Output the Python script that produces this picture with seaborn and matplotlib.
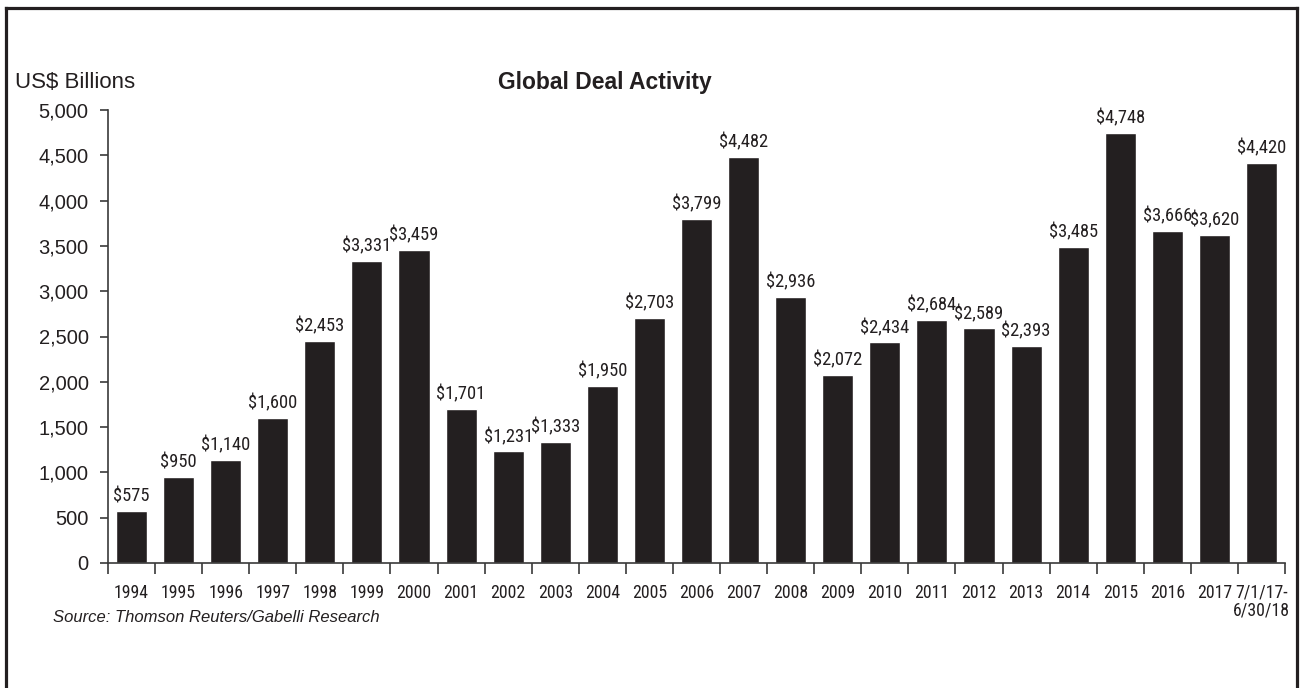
import numpy as np
import pandas as pd
import matplotlib
matplotlib.use("Agg")
import matplotlib.pyplot as plt
from matplotlib import font_manager
from matplotlib.font_manager import FontProperties
from matplotlib.lines import Line2D
import seaborn as sns

categories = ["1994", "1995", "1996", "1997", "1998", "1999", "2000", "2001", "2002",
              "2003", "2004", "2005", "2006", "2007", "2008", "2009", "2010", "2011",
              "2012", "2013", "2014", "2015", "2016", "2017", "7/1/17-\n6/30/18"]
values = [575, 950, 1140, 1600, 2453, 3331, 3459, 1701, 1231, 1333, 1950, 2703, 3799,
          4482, 2936, 2072, 2434, 2684, 2589, 2393, 3485, 4748, 3666, 3620, 4420]
y_ticks = [0, 500, 1000, 1500, 2000, 2500, 3000, 3500, 4000, 4500, 5000]

title = "Global Deal Activity"
unit_label = "US$ Billions"
source = "Source: Thomson Reuters/Gabelli Research"

sns.set_theme(style="ticks")
plt.rcParams['font.family'] = ['Liberation Sans', 'DejaVu Sans']

# look for a condensed / narrow sans face for the small labels
def find_condensed():
    cands = []
    for f in font_manager.fontManager.ttflist:
        name = f.name.lower()
        path = f.fname.lower()
        stretch = str(f.stretch).lower()
        is_cond = ('narrow' in name or 'condensed' in name or 'narrow' in path
                   or 'condensed' in path or 'condensed' in stretch)
        if not is_cond or 'semi' in path:
            continue
        if any(k in path for k in ('bold', 'italic', 'oblique', 'light', 'thin', 'black', 'medium')):
            continue
        rank = 9
        if 'liberation' in path:
            rank = 0
        elif 'roboto' in path:
            rank = 1
        elif 'opensans' in path or 'open sans' in name:
            rank = 2
        elif 'noto' in path:
            rank = 3
        elif 'dejavu' in path:
            rank = 4
        cands.append((rank, f.fname))
    cands.sort()
    return cands[0][1] if cands else None

cond_path = find_condensed()
if cond_path:
    tick_fp = FontProperties(fname=cond_path, size=12.8)
    bar_fp = FontProperties(fname=cond_path, size=13.3)
else:
    tick_fp = FontProperties(family='Liberation Sans', size=11)
    bar_fp = FontProperties(family='Liberation Sans', size=11)

BAR = '#231f20'
AXC = '#3a3a3a'

fig = plt.figure(figsize=(13.03, 6.88), dpi=100)
W, H = 1303, 688
ax = fig.add_axes([108 / W, 1 - 563 / H, (1285 - 108) / W, (563 - 110) / H])

df = pd.DataFrame({"cat": categories, "val": values})
sns.barplot(data=df, x="cat", y="val", color=BAR, saturation=1, width=0.66, ax=ax)

ax.set_xlim(-0.5, len(categories) - 0.5)
ax.set_ylim(0, 5000)
ax.set_yticks(y_ticks)
ax.set_yticklabels([f"{v:,}" for v in y_ticks], fontsize=14.5, color='#231f20')
ax.set_xlabel("")
ax.set_ylabel("")

ax.set_xticks(range(len(categories)))
ax.set_xticklabels(categories, fontproperties=tick_fp, color='#231f20',
                   linespacing=0.95)
ax.set_xticks(np.arange(-0.5, len(categories), 1), minor=True)
ax.tick_params(axis='x', which='major', length=0, pad=15)
ax.tick_params(axis='x', which='minor', length=8, width=1.2, color=AXC, direction='out')
ax.tick_params(axis='y', which='major', length=6, width=1.2, color=AXC, direction='out', pad=8)

for s in ['top', 'right']:
    ax.spines[s].set_visible(False)
for s in ['left', 'bottom']:
    ax.spines[s].set_color(AXC)
    ax.spines[s].set_linewidth(1.2)

labels = [f"${v:,}" for v in values]
ax.bar_label(ax.containers[0], labels=labels, padding=4, fontproperties=bar_fp,
             color='#231f20')

fig.text(605 / W, 1 - 83 / H, title, ha='center', va='center', fontsize=16.5,
         fontweight='bold', color='#231f20')
fig.text(15 / W, 1 - 82 / H, unit_label, ha='left', va='center', fontsize=16,
         color='#231f20')
fig.text(53 / W, 1 - 618 / H, source, ha='left', va='center', fontsize=12,
         style='italic', color='#231f20')

# outer frame (open at the bottom)
lw = 2.3
fig.add_artist(Line2D([5.5 / W, 5.5 / W], [0, 1 - 8 / H], transform=fig.transFigure,
                      color=BAR, lw=lw, solid_capstyle='projecting'))
fig.add_artist(Line2D([1296.5 / W, 1296.5 / W], [0, 1 - 8 / H], transform=fig.transFigure,
                      color=BAR, lw=lw, solid_capstyle='projecting'))
fig.add_artist(Line2D([5.5 / W, 1296.5 / W], [1 - 8 / H, 1 - 8 / H], transform=fig.transFigure,
                      color=BAR, lw=lw, solid_capstyle='projecting'))

fig.savefig("out.png", dpi=100)
